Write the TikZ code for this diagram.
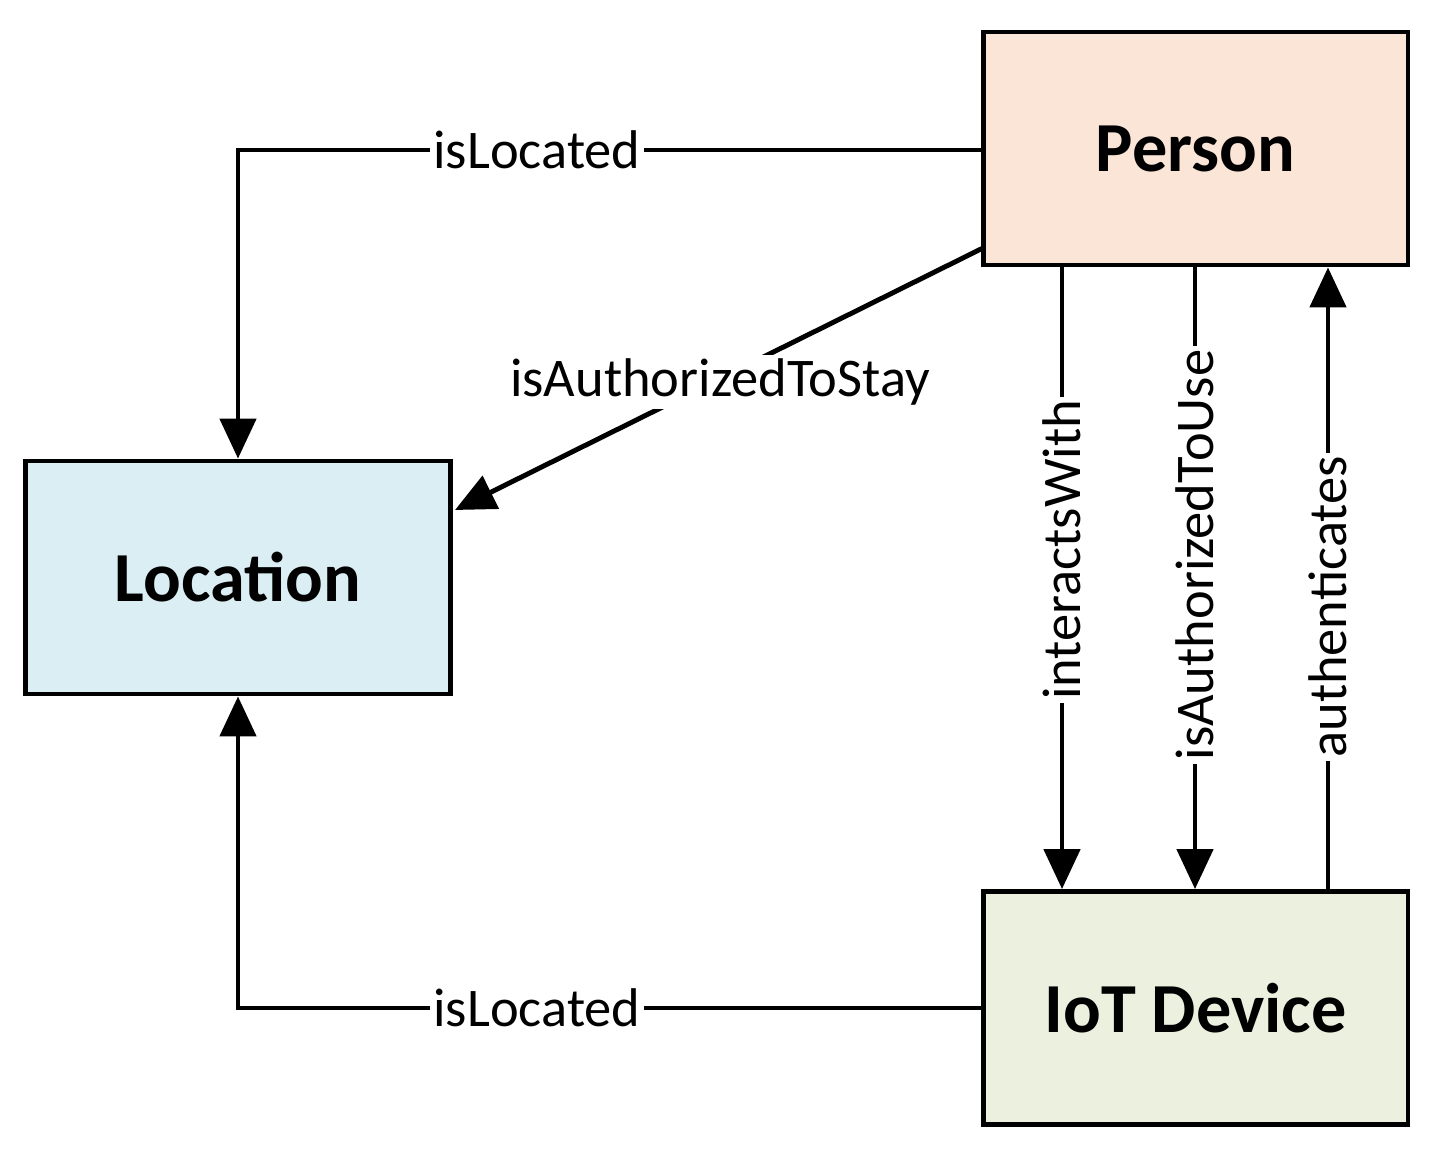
\documentclass[tikz,border=0pt]{standalone}
\usepackage{fontspec}
\setmainfont{Carlito}
\usetikzlibrary{arrows.meta}
\definecolor{pfill}{HTML}{FBE5D6}
\definecolor{lfill}{HTML}{DAEEF3}
\definecolor{ifill}{HTML}{EBF1DE}
\begin{document}
\begin{tikzpicture}[x=0.02cm,y=-0.02cm,
  box/.style={draw,line width=2.8pt,minimum width=8.5cm,minimum height=4.66cm,font=\fontsize{40}{48}\selectfont\bfseries},
  conn/.style={line width=2.8pt,-{Triangle[length=0.8cm,width=0.72cm]}},
  lab/.style={fill=white,inner sep=2pt,font=\fontsize{31}{37}\selectfont}]
\useasboundingbox (0,0) rectangle (1434,1153);
\node[box,fill=pfill] (P) at (1195.5,148.5) {Person};
\node[box,fill=lfill] (L) at (238,577.5) {Location};
\node[box,fill=ifill] (I) at (1195.5,1008) {IoT Device};
\coordinate (c1) at (238,150);
\coordinate (c2) at (238,1008);
\draw[conn] (P.west |- c1) -- (c1) -- (L.north);
\draw[conn] (I.west) -- (c2) -- (L.south);
\node[lab] at (537,150) {isLocated};
\node[lab] at (537,1008) {isLocated};
\coordinate (s1) at (983,248);
\coordinate (s2) at (455,510);
\draw[conn] (s1) -- (s2);
\node[lab] at (720,382) {isAuthorizedToStay};
\draw[conn] (P.south -| 1062,0) -- (I.north -| 1062,0);
\draw[conn] (P.south -| 1195,0) -- (I.north -| 1195,0);
\draw[conn] (I.north -| 1328,0) -- (P.south -| 1328,0);
\node[lab,rotate=90] at (1062,550) {interactsWith};
\node[lab,rotate=90] at (1195,555) {isAuthorizedToUse};
\node[lab,rotate=90] at (1328,607) {authenticates};
\end{tikzpicture}
\end{document}
